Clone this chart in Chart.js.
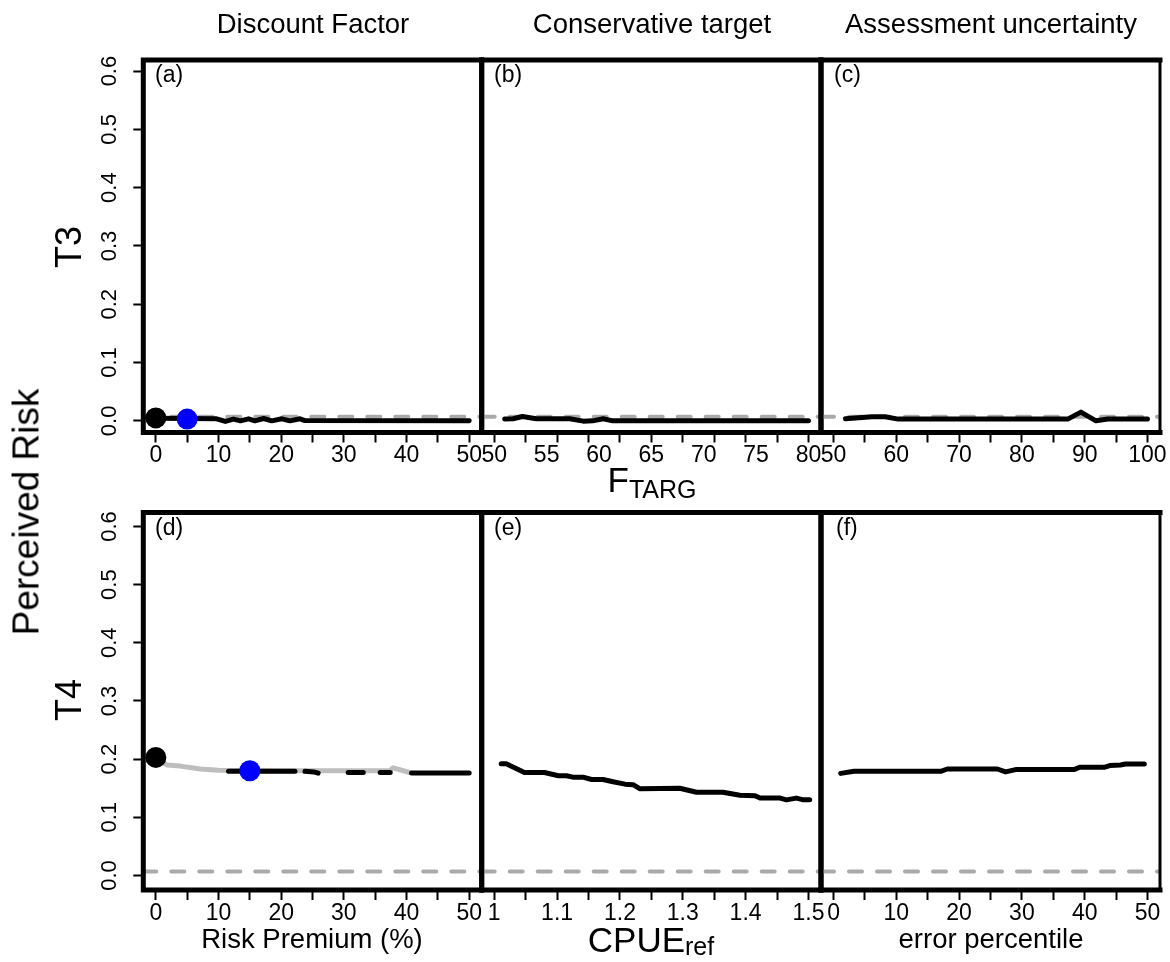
<!DOCTYPE html>
<html>
<head>
<meta charset="utf-8">
<title>Perceived Risk — T3 / T4</title>
<script src="https://cdn.jsdelivr.net/npm/chart.js@4.4.1/dist/chart.umd.min.js"></script>
<style>
  html, body { margin: 0; padding: 0; background: #fff; }
  #fig { position: relative; width: 1170px; height: 962px; overflow: hidden;
         font-family: 'Liberation Sans', Arial, Helvetica, sans-serif; color: #000; }
  #fig canvas { position: absolute; left: 0; top: 0; }
  .t { position: absolute; white-space: nowrap; line-height: 1; }
  .h { transform: translateX(-50%); }
  .v { transform: translate(-50%, -50%) rotate(-90deg); }
  .ttl { font-size: 27.5px; }
  .big { font-size: 35px; }
  .big sub { font-size: 25px; vertical-align: baseline; position: relative; }
  .tag { font-size: 23px; }
</style>
</head>
<body>
<div id="fig">
  <canvas id="pa" width="1170" height="962"></canvas>
  <canvas id="pb" width="1170" height="962"></canvas>
  <canvas id="pc" width="1170" height="962"></canvas>
  <canvas id="pd" width="1170" height="962"></canvas>
  <canvas id="pe" width="1170" height="962"></canvas>
  <canvas id="pf" width="1170" height="962"></canvas>

  <div class="t h ttl" style="left:313px;top:10px">Discount Factor</div>
  <div class="t h ttl" style="left:652px;top:10px">Conservative target</div>
  <div class="t h ttl" style="left:991px;top:10px">Assessment uncertainty</div>

  <div class="t v" style="left:69px;top:247px;font-size:36px">T3</div>
  <div class="t v" style="left:69px;top:700px;font-size:36px">T4</div>
  <div class="t v" style="left:26px;top:512px;font-size:37px">Perceived Risk</div>

  <div class="t h big" style="left:652px;top:462px">F<sub style="top:6px">TARG</sub></div>
  <div class="t h big" style="left:651px;top:922px">CPUE<sub style="top:3px">ref</sub></div>
  <div class="t h ttl" style="left:312px;top:925px">Risk Premium (%)</div>
  <div class="t h ttl" style="left:991px;top:925px">error percentile</div>

  <div class="t tag" style="left:155px;top:63px">(a)</div>
  <div class="t tag" style="left:494px;top:63px">(b)</div>
  <div class="t tag" style="left:834px;top:63px">(c)</div>
  <div class="t tag" style="left:155px;top:516px">(d)</div>
  <div class="t tag" style="left:494px;top:516px">(e)</div>
  <div class="t tag" style="left:836px;top:516px">(f)</div>
</div>

<script>
/* ── Axis ticks & ranges ────────────────────────────────────────── */
const yTicks      = [0, 0.1, 0.2, 0.3, 0.4, 0.5, 0.6];
const yRangeTop   = [-0.020, 0.619];
const yRangeBot   = [-0.025, 0.624];

const pctRange    = [-2, 52];
const pctMarks    = [0, 5, 10, 15, 20, 25, 30, 35, 40, 45, 50];
const pctLabels   = [0, 10, 20, 30, 40, 50];

const ftargRange  = [48.8, 81.2];
const ftargMarks  = [50, 53, 56, 59, 62, 65, 68, 71, 74, 77, 80];
const ftargLabels = [50, 55, 60, 65, 70, 75, 80];

const uncRange    = [48, 102];
const uncMarks    = [50, 55, 60, 65, 70, 75, 80, 85, 90, 95, 100];
const uncLabels   = [50, 60, 70, 80, 90, 100];

const cpueRange   = [0.98, 1.52];
const cpueMarks   = [1, 1.05, 1.1, 1.15, 1.2, 1.25, 1.3, 1.35, 1.4, 1.45, 1.5];
const cpueLabels  = [1, 1.1, 1.2, 1.3, 1.4, 1.5];

const refLevel = 0.007;   // grey dashed reference risk

/* ── Series ─────────────────────────────────────────────────────── */
// (a) T3 · discount factor
const aX = [0, 9.7, 11.1, 12.4, 13.5, 14.8, 15.8, 17.2, 18.5, 20.1, 21.4, 23.0, 23.8, 50];
const aY = [0.0046, 0.0035, -0.001, 0.003, 0, 0.0035, 0, 0.004, 0, 0.0035, 0, 0.0035, 0.0005, 0];
const aBase = [0, 0.005];
const aPick = [5, 0.003];

// (b) T3 · conservative target
const bX = [51.0, 51.8, 52.7, 54.0, 57.2, 58.5, 59.4, 60.4, 61.3, 80];
const bY = [0.003, 0.0035, 0.0074, 0.0035, 0.0035, -0.0005, 0, 0.0035, 0, 0];

// (c) T3 · assessment uncertainty
const cX = [51.9, 56.1, 58.2, 60.3, 87.3, 89.4, 91.8, 93.7, 100];
const cY = [0.0034, 0.007, 0.007, 0.003, 0.003, 0.015, 0, 0.003, 0.003];

// (d) T4 · discount factor
const dGreyX  = [0, 1.8, 3.9, 7.1, 10, 20, 30, 37.3, 37.9, 40.5];
const dGreyY  = [0.200, 0.190, 0.188, 0.183, 0.181, 0.180, 0.180, 0.180, 0.185, 0.177];
const dBlackX = [11.6, 22.2, 23.0, 23.8, 25.2, 25.9, 28.0, 30.7, 33.1, 34.5, 35.8, 37.4, 39.0, 40.8, 50];
const dBlackY = [0.179, 0.179, null, 0.179, 0.178, 0.176, null, 0.177, 0.177, null, 0.177, 0.177, null, 0.176, 0.176];
const dBase = [0, 0.203];
const dPick = [15, 0.180];

// (e) T4 · CPUE reference
const eX = [1.011, 1.019, 1.048, 1.080, 1.102, 1.115, 1.125, 1.141, 1.155, 1.173, 1.189, 1.208, 1.221,
            1.232, 1.295, 1.322, 1.364, 1.391, 1.415, 1.423, 1.455, 1.465, 1.481, 1.492, 1.502];
const eY = [0.192, 0.192, 0.177, 0.177, 0.1715, 0.1715, 0.169, 0.169, 0.165, 0.165, 0.161, 0.157, 0.156,
            0.149, 0.150, 0.143, 0.143, 0.138, 0.137, 0.133, 0.133, 0.130, 0.133, 0.130, 0.130];

// (f) T4 · error percentile
const fX = [1.14, 3.26, 17.07, 18.12, 26.1, 27.4, 29.0, 38.3, 39.2, 43.1, 44.0, 45.7, 46.5, 49.5];
const fY = [0.1755, 0.179, 0.179, 0.183, 0.183, 0.178, 0.182, 0.182, 0.186, 0.186, 0.189, 0.190, 0.1915, 0.1915];

/* ── Panel grid (px) ────────────────────────────────────────────── */
const colL = [143.3, 481.7, 821];
const colR = [481.7, 821, 1160];
const rowT = [60, 512.5];
const rowB = [432.5, 890];
const X_AXIS_H = 40;

Chart.defaults.font.family = "'Liberation Sans', Arial, Helvetica, sans-serif";
Chart.defaults.color = '#000';
Chart.defaults.animation = false;
Chart.defaults.plugins.legend.display = false;
Chart.defaults.plugins.tooltip.enabled = false;

/* ── Helpers ────────────────────────────────────────────────────── */
const near = (arr, v) => arr.some(a => Math.abs(a - v) < 1e-9);
const pts  = (xs, ys) => xs.map((x, i) => ({ x, y: ys[i] }));

function xAxis(range, marks, labels) {
  const all = [...new Set([...marks, ...labels])].sort((p, q) => p - q);
  return {
    type: 'linear', min: range[0], max: range[1],
    afterBuildTicks: s => { s.ticks = all.map(v => ({ value: v })); },
    afterFit: s => { s.height = X_AXIS_H; },
    ticks: {
      autoSkip: false, maxRotation: 0, padding: 2,
      font: { size: 23, lineHeight: 1 },
      callback: v => near(labels, v) ? String(labels.find(l => Math.abs(l - v) < 1e-9)) : ''
    },
    grid: {
      drawOnChartArea: false, tickLength: 10, tickWidth: 2,
      tickColor: c => (c.tick && near(marks, c.tick.value)) ? '#000' : 'rgba(0,0,0,0)'
    },
    border: { display: false }
  };
}

function yAxis(range, show) {
  const axis = {
    type: 'linear', min: range[0], max: range[1], display: show,
    afterBuildTicks: s => { s.ticks = yTicks.map(v => ({ value: v })); },
    ticks: {
      autoSkip: false, minRotation: 90, maxRotation: 90, crossAlign: 'center', padding: 8,
      font: { size: 22, lineHeight: 1 },
      callback: v => v.toFixed(1)
    },
    grid: { drawOnChartArea: false, tickLength: 10, tickWidth: 2, tickColor: '#000' },
    border: { display: false }
  };
  if (show) axis.afterFit = s => { s.width = colL[0]; };
  return axis;
}

function ref(range) {
  return { data: [{ x: range[0], y: refLevel }, { x: range[1], y: refLevel }],
           showLine: true, borderColor: '#aaaaaa', borderWidth: 4, borderDash: [13, 15],
           borderCapStyle: 'round', pointRadius: 0 };
}
function curve(xs, ys, colour) {
  return { data: pts(xs, ys), showLine: true, borderColor: colour, borderWidth: 5,
           borderCapStyle: 'round', borderJoinStyle: 'round', pointRadius: 0, spanGaps: false };
}
function dot(p, colour) {
  return { data: [{ x: p[0], y: p[1] }], showLine: false, pointRadius: 10.5,
           pointBackgroundColor: colour, pointBorderWidth: 0 };
}

/* ── Box round each panel ───────────────────────────────────────── */
const frame = {
  id: 'frame',
  afterDatasetsDraw(chart, args, opts) {
    const { ctx, chartArea: a } = chart;
    ctx.save();
    ctx.strokeStyle = '#000';
    ctx.lineCap = 'square';
    ctx.lineWidth = 5;
    ctx.beginPath();
    ctx.moveTo(a.right, a.top); ctx.lineTo(a.left, a.top);
    ctx.lineTo(a.left, a.bottom); ctx.lineTo(a.right, a.bottom);
    ctx.stroke();
    ctx.lineWidth = opts.right || 5;
    ctx.beginPath(); ctx.moveTo(a.right, a.top); ctx.lineTo(a.right, a.bottom); ctx.stroke();
    ctx.restore();
  }
};

/* ── Panels ─────────────────────────────────────────────────────── */
const panels = [
  { id: 'pa', col: 0, row: 0, x: xAxis(pctRange, pctMarks, pctLabels),
    sets: [dot(aPick, '#0000ff'), dot(aBase, '#000'), curve(aX, aY, '#000'), ref(pctRange)] },
  { id: 'pb', col: 1, row: 0, x: xAxis(ftargRange, ftargMarks, ftargLabels),
    sets: [curve(bX, bY, '#000'), ref(ftargRange)] },
  { id: 'pc', col: 2, row: 0, x: xAxis(uncRange, uncMarks, uncLabels),
    sets: [curve(cX, cY, '#000'), ref(uncRange)] },
  { id: 'pd', col: 0, row: 1, x: xAxis(pctRange, pctMarks, pctLabels),
    sets: [dot(dPick, '#0000ff'), dot(dBase, '#000'), curve(dBlackX, dBlackY, '#000'),
           curve(dGreyX, dGreyY, '#bebebe'), ref(pctRange)] },
  { id: 'pe', col: 1, row: 1, x: xAxis(cpueRange, cpueMarks, cpueLabels),
    sets: [curve(eX, eY, '#000'), ref(cpueRange)] },
  { id: 'pf', col: 2, row: 1, x: xAxis(pctRange, pctMarks, pctLabels),
    sets: [curve(fX, fY, '#000'), ref(pctRange)] },
];

panels.forEach(p => {
  new Chart(document.getElementById(p.id), {
    type: 'scatter',
    data: { datasets: p.sets },
    plugins: [frame],
    options: {
      responsive: false, devicePixelRatio: 1, events: [],
      layout: { padding: {
        left: p.col === 0 ? 0 : colL[p.col],
        right: 1170 - colR[p.col],
        top: rowT[p.row],
        bottom: 962 - rowB[p.row] - X_AXIS_H
      } },
      scales: { x: p.x, y: yAxis(p.row === 0 ? yRangeTop : yRangeBot, p.col === 0) },
      plugins: { frame: { right: p.col === 2 ? 3 : 5 } }
    }
  });
});
</script>
</body>
</html>
